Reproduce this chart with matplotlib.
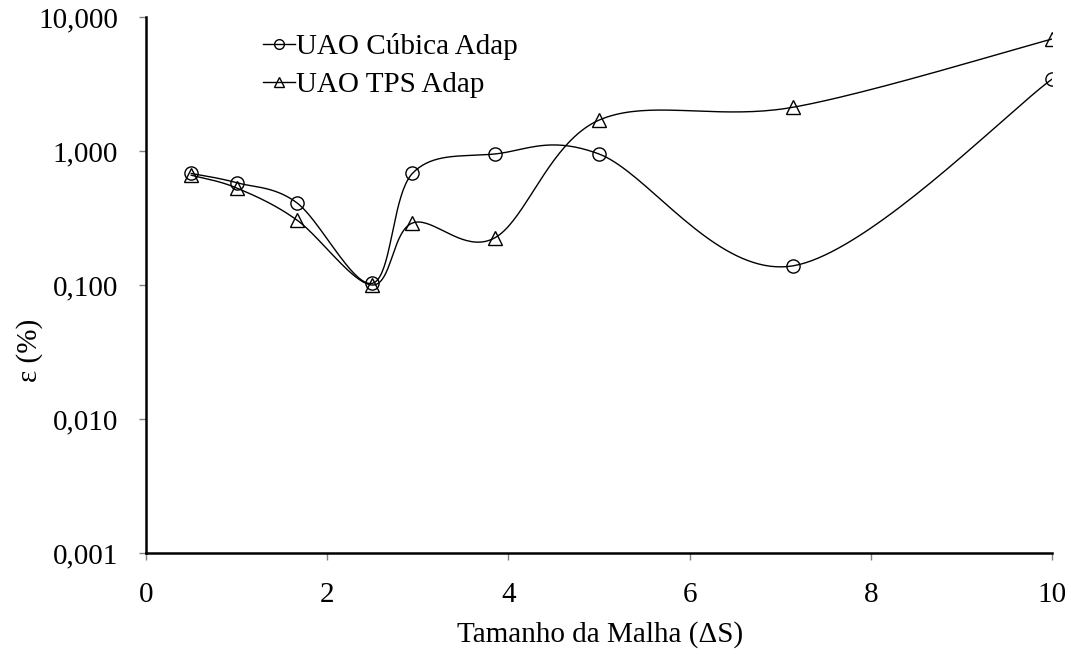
import numpy as np
import matplotlib
matplotlib.use("Agg")
import matplotlib.pyplot as plt
from matplotlib.lines import Line2D

# mesh size values (x) and errors (%)
mesh_size = [0.5, 1.0, 1.667, 2.5, 2.94, 3.85, 5.0, 7.14, 10.0]
err_cubica = [0.68, 0.58, 0.41, 0.103, 0.68, 0.95, 0.95, 0.139, 3.44]
err_tps = [0.66, 0.53, 0.305, 0.10, 0.29, 0.225, 1.70, 2.12, 6.85]

y_ticks = [0.001, 0.01, 0.1, 1, 10]
y_ticklabels = ["0,001", "0,010", "0,100", "1,000", "10,000"]
x_ticks = [0, 2, 4, 6, 8, 10]

plt.rcParams['font.family'] = ['Liberation Serif', 'DejaVu Serif']
FS = 21


def smooth(xs, ys, n=40):
    """Excel-like smoothed line (Catmull-Rom bezier) in x / log10(y) space"""
    px = np.array(xs, dtype=float)
    py = np.log10(np.array(ys, dtype=float))
    out_x, out_y = [], []
    m = len(px)
    for i in range(m - 1):
        p0 = i - 1 if i > 0 else i
        p3 = i + 2 if i + 2 < m else i + 1
        c1x = px[i] + (px[i + 1] - px[p0]) / 6
        c1y = py[i] + (py[i + 1] - py[p0]) / 6
        c2x = px[i + 1] - (px[p3] - px[i]) / 6
        c2y = py[i + 1] - (py[p3] - py[i]) / 6
        t = np.linspace(0, 1, n)
        bx = (1 - t) ** 3 * px[i] + 3 * (1 - t) ** 2 * t * c1x + 3 * (1 - t) * t ** 2 * c2x + t ** 3 * px[i + 1]
        by = (1 - t) ** 3 * py[i] + 3 * (1 - t) ** 2 * t * c1y + 3 * (1 - t) * t ** 2 * c2y + t ** 3 * py[i + 1]
        out_x.extend(bx)
        out_y.extend(by)
    return np.array(out_x), 10 ** np.array(out_y)


fig = plt.figure(figsize=(10.71, 6.59), dpi=100)
ax = fig.add_axes([0.1363, 0.1608, 0.8460, 0.8134])

for ys, mk in [(err_cubica, 'o'), (err_tps, '^')]:
    sx, sy = smooth(mesh_size, ys)
    ax.plot(sx, sy, color='black', lw=1.0)
    ax.plot(mesh_size, ys, linestyle='none', marker=mk, ms=9.5,
            mfc='none', mec='black', mew=1.0)

ax.set_yscale('log')
ax.set_ylim(0.001, 10)
ax.set_xlim(0, 10)
ax.set_yticks(y_ticks)
ax.set_yticklabels(y_ticklabels)
ax.yaxis.set_minor_locator(matplotlib.ticker.NullLocator())
ax.set_xticks(x_ticks)
ax.tick_params(axis='both', labelsize=FS, direction='out', length=5,
               width=1.0, color='#808080')
ax.tick_params(axis='y', pad=15)
ax.tick_params(axis='x', pad=16)

for side in ['top', 'right']:
    ax.spines[side].set_visible(False)
for side in ['left', 'bottom']:
    ax.spines[side].set_linewidth(1.8)

# axis titles placed like the original
fig.text(600 / 1071, 1 - 635 / 659, 'Tamanho da Malha (ΔS)', fontsize=FS,
         ha='center', va='center')
fig.text(30 / 1071, 1 - 350 / 659, 'ε (%)', fontsize=FS, rotation=90,
         ha='center', va='center')

handles = [
    Line2D([], [], color='black', lw=1.0, marker='o', ms=7, mfc='none'),
    Line2D([], [], color='black', lw=1.0, marker='^', ms=7, mfc='none'),
]
ax.legend(handles, ['UAO Cúbica Adap', 'UAO TPS Adap'], loc='upper left',
          bbox_to_anchor=(0.129, 0.970), frameon=False, fontsize=FS,
          handlelength=1.1, handletextpad=0.05, labelspacing=0.4,
          borderpad=0, borderaxespad=0)

fig.savefig('out.png', dpi=100)
